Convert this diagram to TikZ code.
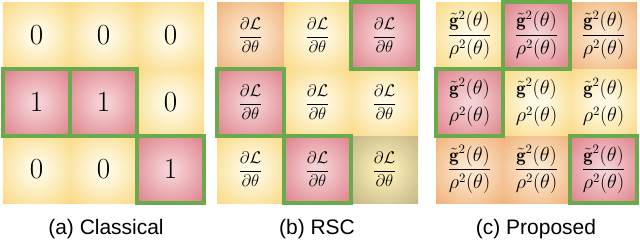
\documentclass[tikz,border=0pt]{standalone}
\usepackage{amsmath,amssymb}
\usepackage{fontspec}
\newfontfamily\capfont{Liberation Sans}
\usetikzlibrary{positioning}

\definecolor{yin}{RGB}{255,249,226}
\definecolor{yout}{RGB}{247,206,98}
\definecolor{rin}{RGB}{245,208,212}
\definecolor{rout}{RGB}{212,96,106}
\definecolor{oin}{RGB}{252,230,204}
\definecolor{oout}{RGB}{236,160,92}
\definecolor{kin}{RGB}{250,236,180}
\definecolor{kout}{RGB}{176,162,118}
\definecolor{hlgreen}{RGB}{106,170,76}

\pgfdeclareradialshading{glowy}{\pgfpoint{0bp}{0bp}}{color(0bp)=(yin);color(6bp)=(yin);color(46bp)=(yout)}
\pgfdeclareradialshading{glowr}{\pgfpoint{0bp}{0bp}}{color(0bp)=(rin);color(4bp)=(rin);color(48bp)=(rout)}
\pgfdeclareradialshading{glowo}{\pgfpoint{0bp}{0bp}}{color(0bp)=(oin);color(6bp)=(oin);color(46bp)=(oout)}
\pgfdeclareradialshading{glowk}{\pgfpoint{0bp}{0bp}}{color(0bp)=(kin);color(6bp)=(kin);color(46bp)=(kout)}

\newcommand{\dLdt}{$\dfrac{\partial\mathcal{L}}{\partial\theta}$}
\newcommand{\gratio}{$\dfrac{\tilde{\mathbf{g}}^2(\theta)}{\rho^2(\theta)}$}
\newcommand{\gstack}{$\genfrac{}{}{0pt}{0}{\tilde{\mathbf{g}}^2(\theta)}{\rho^2(\theta)}$}

\tikzset{
  cell/.style={shade,shading=glow#1,minimum size=2.01cm,inner sep=0pt},
  hl/.style={draw=hlgreen,line width=3.6pt},
  caption/.style={font=\capfont\fontsize{17.9}{20}\selectfont}
}

\begin{document}
\begin{tikzpicture}[x=0.03cm,y=-0.03cm]
  \useasboundingbox (0,0) rectangle (640,242);
  % (a) classical
  \foreach \r/\c/\s/\t in {1/1/y/0,1/2/y/0,1/3/y/0,2/1/r/1,2/2/r/1,2/3/y/0,3/1/y/0,3/2/y/0,3/3/r/1}
    \node[cell=\s,font=\fontsize{28}{32}\selectfont] (a\r\c) at ({3+67*\c-33.5},{2+67*\r-33.5}) {$\t$};
  % (b) RSC
  \foreach \r/\c/\s in {1/1/o,1/2/y,1/3/r,2/1/r,2/2/y,2/3/y,3/1/y,3/2/r,3/3/k}
    \node[cell=\s,font=\fontsize{15.5}{18}\selectfont] (b\r\c) at ({217+67*\c-33.5},{2+67*\r-33.5}) {\dLdt};
  % (c) proposed
  \foreach \r/\c/\s/\t in {1/1/y/\gratio,1/2/r/\gratio,1/3/o/\gratio,2/1/r/\gstack,2/2/y/\gstack,2/3/y/\gstack,3/1/o/\gratio,3/2/o/\gratio,3/3/r/\gratio}
    \node[cell=\s,font=\fontsize{16}{19}\selectfont] (c\r\c) at ({436+67*\c-33.5},{2+67*\r-33.5}) {\t};
  \foreach \n in {a21,a22,a33,b13,b21,b32,c12,c21,c33}
    \draw[hl] (\n.south west) rectangle (\n.north east);
  \node[caption] (capa) at (106,229) {(a) Classical};
  \node[caption] (capb) at (317,229) {(b) RSC};
  \node[caption] (capc) at (536,229) {(c) Proposed};
\end{tikzpicture}
\end{document}
